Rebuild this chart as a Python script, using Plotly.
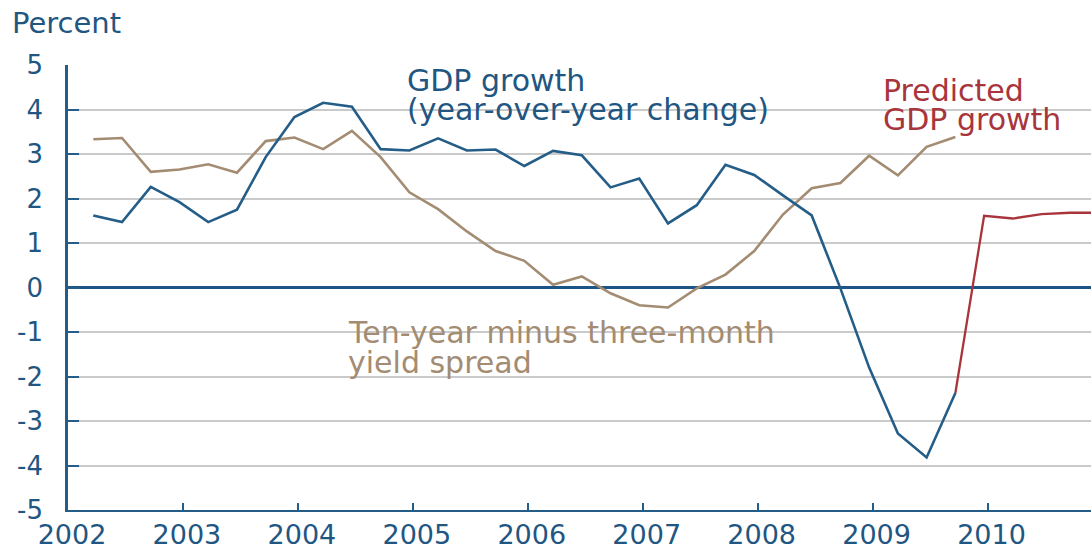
import plotly.graph_objects as go

# ---- data ----
quarters = [f"{y}Q{q}" for y in range(2002, 2011) for q in range(1, 5)]

gdp_growth = [1.62, 1.47, 2.26, 1.92, 1.47, 1.75, 2.93, 3.83, 4.15, 4.06,
              3.11, 3.08, 3.35, 3.08, 3.10, 2.73, 3.07, 2.97, 2.25, 2.45,
              1.44, 1.85, 2.76, 2.53, 2.07, 1.62, -0.02, -1.80, -3.28, -3.82,
              -2.37]
yield_spread = [3.33, 3.36, 2.60, 2.65, 2.77, 2.58, 3.29, 3.37, 3.11, 3.52,
                2.93, 2.14, 1.76, 1.26, 0.82, 0.60, 0.06, 0.25, -0.13, -0.40,
                -0.45, -0.02, 0.29, 0.82, 1.64, 2.23, 2.35, 2.96, 2.52, 3.16,
                3.38]
predicted_start = 30  # predicted series starts at the last actual quarter
predicted_gdp = [-2.37, 1.61, 1.55, 1.65, 1.68, 1.68]

year_ticks = list(range(2002, 2011))
y_ticks = list(range(-5, 6))
y_labels = [str(v) for v in y_ticks]


def qpos(label):
    y, q = label.split("Q")
    return int(y) + (int(q) - 1) / 4 + 0.22


x_all = [qpos(q) for q in quarters]
x_gdp = x_all[:len(gdp_growth)]
x_spread = x_all[:len(yield_spread)]
x_pred = x_all[predicted_start:predicted_start + len(predicted_gdp)]

BLUE = "#245d88"
TEXT_BLUE = "#1f5682"
TAN = "#a38c72"
RED = "#a8353c"
GRID = "#cacaca"
FONT = "DejaVu Sans"

fig = go.Figure()
fig.add_trace(go.Scatter(x=x_spread, y=yield_spread, mode="lines",
                         line=dict(color=TAN, width=2.6), showlegend=False))
fig.add_trace(go.Scatter(x=x_pred, y=predicted_gdp, mode="lines",
                         line=dict(color=RED, width=2.3), showlegend=False))
fig.add_trace(go.Scatter(x=x_gdp, y=gdp_growth, mode="lines",
                         line=dict(color=BLUE, width=2.6), showlegend=False))

fig.update_layout(
    width=1091, height=550,
    margin=dict(l=68, r=0, t=65, b=40),
    paper_bgcolor="white", plot_bgcolor="white",
    font=dict(family=FONT, color=TEXT_BLUE),
    xaxis=dict(range=[2002, 2010.9], tickvals=year_ticks,
               ticktext=[str(y) for y in year_ticks],
               ticks="inside", ticklen=7, tickwidth=2, tickcolor=BLUE,
               showline=True, linecolor=BLUE, linewidth=2,
               showgrid=False, zeroline=False, automargin=False,
               tickfont=dict(size=27, color=TEXT_BLUE, family=FONT),
               ticklabelshift=4, ticklabelstandoff=0),
    yaxis=dict(range=[-5, 5], tickvals=y_ticks, ticktext=y_labels,
               ticks="inside", ticklen=11, tickwidth=2, tickcolor=BLUE,
               showline=True, linecolor=BLUE, linewidth=2.5,
               showgrid=True, gridcolor=GRID, gridwidth=1.5,
               zeroline=True, zerolinecolor="#1c5585", zerolinewidth=3,
               automargin=False,
               tickfont=dict(size=26, color=TEXT_BLUE, family=FONT),
               ticklabelstandoff=17),
)


def note(text, x, y, color, size=30, xref="x", yref="y"):
    fig.add_annotation(text=text, x=x, y=y, xref=xref, yref=yref,
                       xanchor="left", yanchor="middle", showarrow=False,
                       font=dict(size=size, color=color, family=FONT))


note("Percent", -0.0567, 1.094, TEXT_BLUE, size=29, xref="paper", yref="paper")
note("GDP growth", 2004.93, 4.65, TEXT_BLUE)
note("(year-over-year change)", 2004.93, 4.0, TEXT_BLUE)
note("Predicted", 2009.075, 4.43, RED)
note("GDP growth", 2009.075, 3.77, RED)
note("Ten-year minus three-month", 2004.42, -1.01, TAN)
note("yield spread", 2004.42, -1.68, TAN)

fig.write_html("out.html",
               config={"displayModeBar": False},
               post_script="document.body.style.margin='0';"
                           "document.body.style.overflow='hidden';")
